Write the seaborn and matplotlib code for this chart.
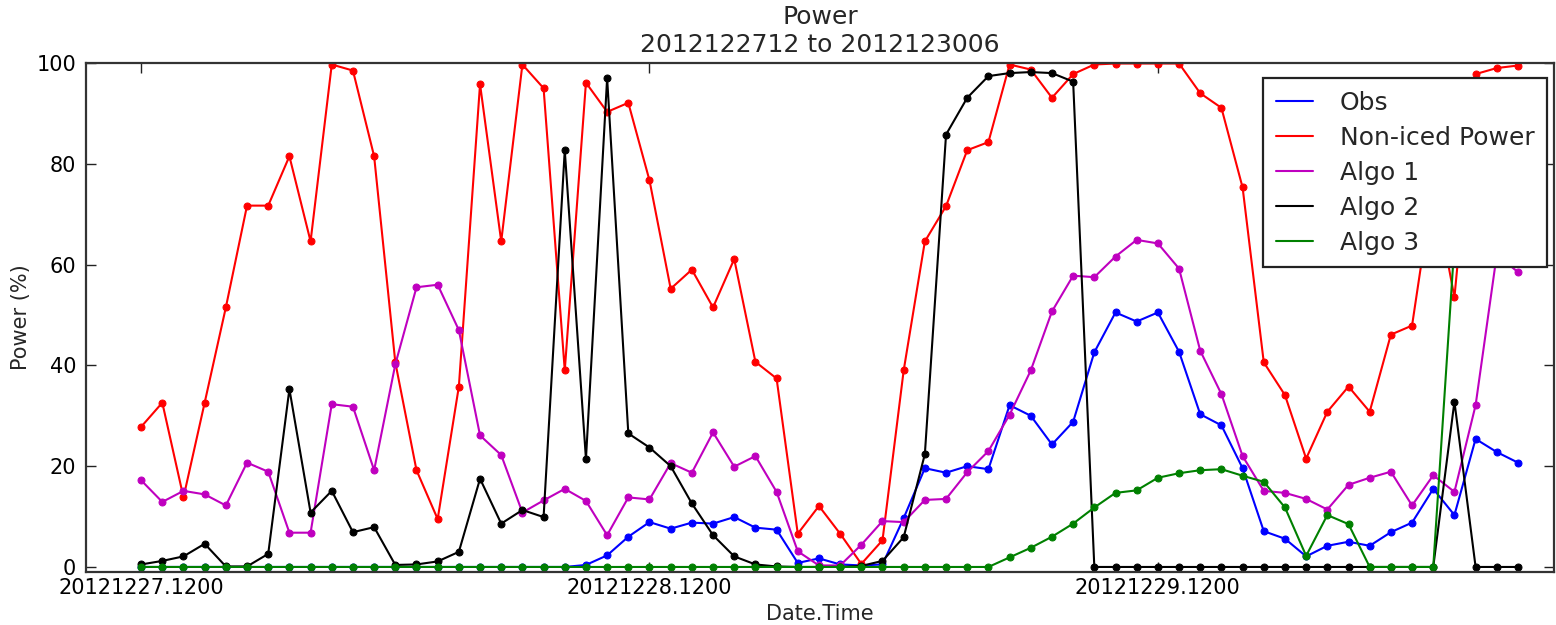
import numpy as np
import pandas as pd
import matplotlib
matplotlib.use("Agg")
import matplotlib.pyplot as plt
from matplotlib.lines import Line2D
import seaborn as sns

# ---- data (hourly, starting 2012-12-27 12:00) ----
hours = list(range(66))
tick_pos = [0, 24, 48]
tick_labels = ["20121227.1200", "20121228.1200", "20121229.1200"]

obs = [0, 0, 0, 0, 0, 0, 0, 0, 0, 0, 0, 0, 0, 0, 0, 0, 0, 0, 0, 0, 0,
       0.4, 2.3, 6.0, 8.9, 7.6, 8.8, 8.6, 9.9, 7.8, 7.4, 0.8, 1.7, 0.5, 0.3, 0.5,
       9.7, 19.6, 18.7, 20.0, 19.4, 32.1, 30.0, 24.3, 28.8, 42.6, 50.5, 48.7, 50.5,
       42.7, 30.3, 28.1, 19.6, 7.1, 5.6, 2.1, 4.2, 5.0, 4.2, 6.9, 8.8, 15.5, 10.3,
       25.4, 22.8, 20.7]

non_iced = [27.8, 32.6, 13.8, 32.6, 51.5, 71.7, 71.7, 81.5, 64.6, 99.7, 98.5, 81.5,
            40.6, 19.2, 9.5, 35.8, 95.8, 64.6, 99.7, 95.0, 39.0, 96.1, 90.3, 92.1,
            76.7, 55.2, 59.0, 51.5, 61.1, 40.7, 37.4, 6.6, 12.1, 6.6, 0.6, 5.3, 39.0,
            64.6, 71.6, 82.7, 84.3, 99.7, 98.7, 93.1, 97.8, 99.7, 99.9, 99.9, 99.9,
            99.9, 94.0, 91.1, 75.3, 40.6, 34.1, 21.5, 30.8, 35.8, 30.8, 46.1, 47.9,
            76.0, 53.5, 97.8, 99.0, 99.5]

algo1 = [17.2, 12.9, 15.1, 14.4, 12.2, 20.7, 18.9, 6.8, 6.8, 32.3, 31.8, 19.2, 40.2,
         55.5, 56.0, 47.0, 26.1, 22.2, 10.8, 13.2, 15.5, 13.1, 6.3, 13.8, 13.4, 20.6,
         18.7, 26.7, 19.9, 22.0, 14.9, 3.1, 0.3, 0.3, 4.4, 9.1, 8.9, 13.3, 13.5, 18.8,
         23.0, 30.2, 39.0, 50.7, 57.8, 57.5, 61.6, 64.9, 64.2, 59.2, 42.9, 34.3, 22.0,
         15.1, 14.7, 13.5, 11.4, 16.3, 17.7, 18.9, 12.2, 18.2, 14.9, 32.1, 62.0, 58.5]

algo2 = [0.5, 1.2, 2.1, 4.6, 0.1, 0.1, 2.6, 35.3, 10.8, 15.1, 6.9, 7.9, 0.4, 0.5, 1.1,
         3.0, 17.5, 8.6, 11.3, 9.9, 82.7, 21.4, 97.0, 26.5, 23.7, 20.0, 12.6, 6.3, 2.1,
         0.5, 0.1, 0, 0, 0, 0.2, 1.2, 5.9, 22.4, 85.8, 93.1, 97.4, 98.0, 98.2, 98.0,
         96.3, 0, 0, 0, 0, 0, 0, 0, 0, 0, 0, 0, 0, 0, 0, 0, 0, 0, 32.8, 0, 0, 0]

algo3 = [0] * 41 + [1.9, 3.8, 6.0, 8.6, 11.8, 14.7, 15.2, 17.7, 18.6, 19.2, 19.4,
                    18.1, 16.9, 11.8, 2.2, 10.3, 8.5, 0, 0, 0, 0, 64.0,
                    np.nan, np.nan, np.nan]

series_names = ["Obs", "Non-iced Power", "Algo 1", "Algo 2", "Algo 3"]
series_vals = [obs, non_iced, algo1, algo2, algo3]
series_colors = ["#0000ff", "#ff0000", "#bf00bf", "#000000", "#008000"]

# ---- plot ----
sns.set_style("ticks")
plt.rcParams["font.family"] = ["DejaVu Sans"]

fig = plt.figure(figsize=(15.56, 6.25), dpi=100)
ax = fig.add_axes([0.0553, 0.0848, 0.9434, 0.8144])

for name, vals, col in zip(series_names, series_vals, series_colors):
    df = pd.DataFrame({"hour": hours, "value": vals}).dropna()
    sns.lineplot(data=df, x="hour", y="value", ax=ax, color=col, marker="o",
                 markersize=5, markeredgecolor=col, linewidth=1.5,
                 estimator=None, sort=False, legend=False)

ax.set_xlim(-2.6, 66.7)
ax.set_ylim(-1, 100)
ax.set_xticks(tick_pos)
ax.set_xticklabels(tick_labels)
ax.set_yticks([0, 20, 40, 60, 80, 100])
ax.tick_params(direction="in", length=7, width=1, labelsize=15, top=True,
               right=True, colors="#222222", labelcolor="black")
ax.tick_params(axis="x", pad=4)
ax.tick_params(axis="y", pad=7)
for sp in ax.spines.values():
    sp.set_visible(True)
    sp.set_color("#333333")
    sp.set_linewidth(1.6)

ax.set_xlabel("Date.Time", fontsize=15, labelpad=5)
ax.set_ylabel("Power (%)", fontsize=15, labelpad=4)
ax.set_title("Power\n2012122712 to 2012123006", fontsize=18, pad=8,
             linespacing=1.2)

handles = [Line2D([], [], color=c, linewidth=1.5) for c in series_colors]
leg = ax.legend(handles, series_names, loc="upper right",
                bbox_to_anchor=(0.9952, 0.9705), borderaxespad=0,
                fontsize=18, frameon=True, fancybox=False, framealpha=1,
                edgecolor="#222222", handlelength=1.5, handletextpad=1.05,
                labelspacing=0.44, borderpad=0.5)
leg.get_frame().set_linewidth(1.6)

fig.savefig("out.png", dpi=100)
